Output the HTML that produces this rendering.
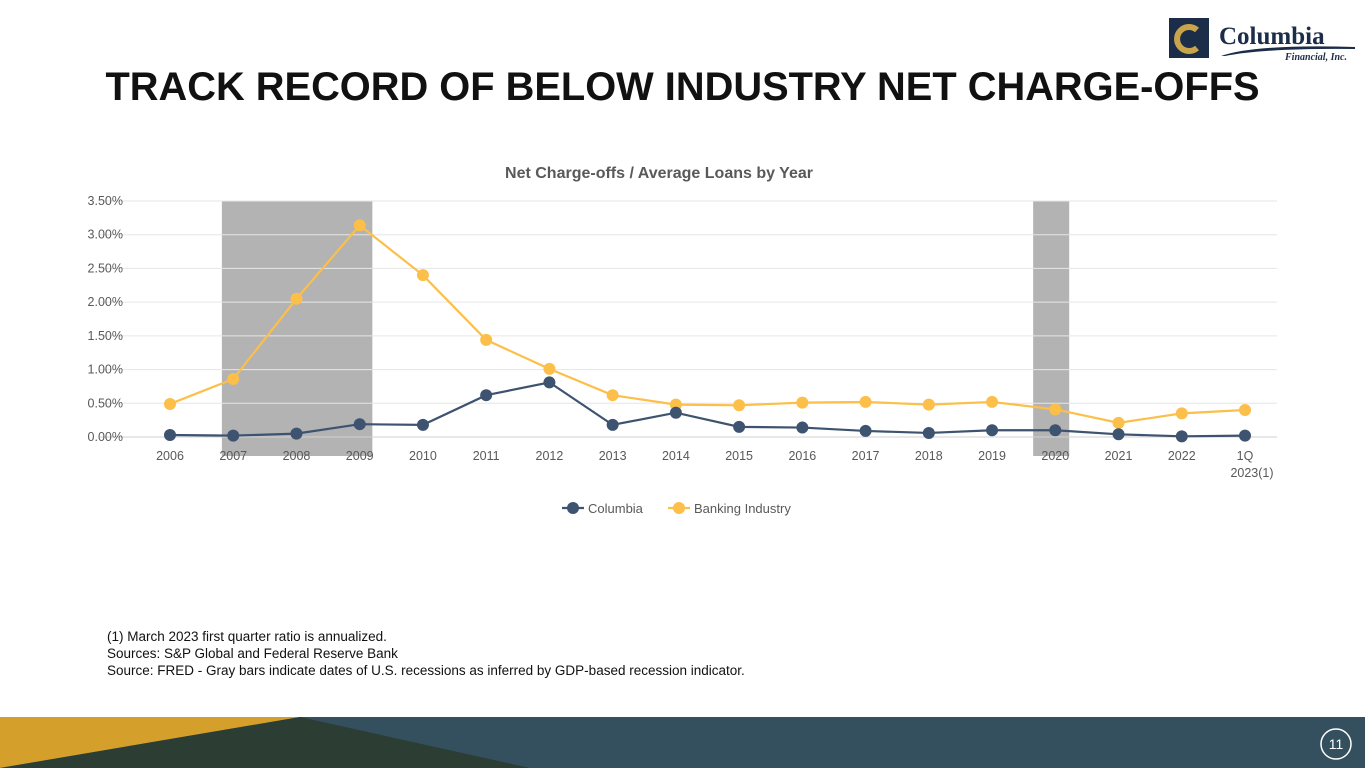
<!DOCTYPE html>
<html><head><meta charset="utf-8"><style>
body{margin:0;width:1365px;height:768px;position:relative;background:#fff;font-family:"Liberation Sans",sans-serif;overflow:hidden}
.title{position:absolute;left:0;width:1365px;top:65px;text-align:center;font-weight:bold;font-size:39.8px;color:#111}
.notes{position:absolute;left:107px;top:628px;font-size:13.5px;line-height:17px;color:#111}
</style></head><body>
<div class="title">TRACK RECORD OF BELOW INDUSTRY NET CHARGE-OFFS</div>
<svg style="position:absolute;left:1165px;top:14px" width="200" height="50">
<rect x="4" y="4" width="40" height="40" fill="#1c2d4a"/>
<path d="M32 16 A12 12 0 1 0 32 34" stroke="#c9a44a" stroke-width="6" fill="none"/>
<text x="54" y="30" font-family="Liberation Serif" font-weight="bold" font-size="25" fill="#1c2d4a">Columbia</text>
<path d="M56 42 Q90 30 190 33 L190 35 Q100 34 60 42Z" fill="#1c2d4a"/>
<text x="120" y="46" font-family="Liberation Serif" font-style="italic" font-weight="bold" font-size="10" fill="#1c2d4a">Financial, Inc.</text>
</svg>
<svg id="chart" style="position:absolute;left:0;top:0" width="1365" height="560"></svg>
<div class="notes">(1) March 2023 first quarter ratio is annualized.<br>Sources: S&amp;P Global and Federal Reserve Bank<br>Source: FRED - Gray bars indicate dates of U.S. recessions as inferred by GDP-based recession indicator.</div>
<svg style="position:absolute;left:0;top:717px" width="1365" height="51">
<rect width="1365" height="51" fill="#34505f"/>
<polygon points="0,0 300,0 0,51" fill="#d4a02b"/>
<polygon points="300,0 530,51 0,51" fill="#2c3d33"/>
<circle cx="1336" cy="27" r="15" fill="none" stroke="#fff" stroke-width="1.5"/>
<text x="1336" y="32" text-anchor="middle" fill="#fff" font-size="14">11</text>
</svg>
<script>
const categories=["2006","2007","2008","2009","2010","2011","2012","2013","2014","2015","2016","2017","2018","2019","2020","2021","2022","1Q 2023(1)"];
const columbia=[0.03,0.02,0.05,0.19,0.18,0.62,0.81,0.18,0.36,0.15,0.14,0.09,0.06,0.10,0.10,0.04,0.01,0.02];
const industry=[0.49,0.86,2.05,3.14,2.40,1.44,1.01,0.62,0.48,0.47,0.51,0.52,0.48,0.52,0.41,0.21,0.35,0.40];
const yTicks=[0,0.5,1,1.5,2,2.5,3,3.5];
const recessions=[[0.82,3.2],[13.65,14.22]];
const svg=document.getElementById('chart'),NS='http://www.w3.org/2000/svg';
const X=i=>170+i*(1245-170)/17, Y=v=>437-v*(236/3.5);
function mk(t,a,txt){const e=document.createElementNS(NS,t);for(const k in a)e.setAttribute(k,a[k]);if(txt!==undefined)e.textContent=txt;svg.appendChild(e);return e;}
recessions.forEach(r=>{const e=mk('rect',{x:X(r[0]),y:201,width:X(r[1])-X(r[0]),height:255,fill:'#b3b3b3'});

});
yTicks.forEach(t=>{const l=mk('line',{x1:100,x2:1277,y1:Y(t),y2:Y(t),stroke:t===0?'#d0d0d0':'#e6e6e6'});


const tx=mk('text',{x:123,y:Y(t)+4,'text-anchor':'end','font-size':12.5,fill:'#595959'},t.toFixed(2)+'%');

});
categories.forEach((c,i)=>{const parts=c.split(' ');parts.forEach((p,j)=>{const tx=mk('text',{x:parts.length>1&&j==1?X(i)+7:X(i),y:460+j*17,'text-anchor':'middle','font-size':12.5,fill:'#595959'},p);

});});
const t=mk('text',{x:659,y:178,'text-anchor':'middle','font-size':16,'font-weight':'bold',fill:'#595959'},'Net Charge-offs / Average Loans by Year');


function series(vals,color,name){const p=mk('polyline',{points:vals.map((v,i)=>X(i)+','+Y(v)).join(' '),fill:'none',stroke:color,'stroke-width':2.2});


vals.forEach((v,i)=>{const c=mk('circle',{cx:X(i),cy:Y(v),r:6,fill:color});

});}
series(industry,'#fbbf4a','industry');
series(columbia,'#3d5370','columbia');
[[562,'#3d5370','Columbia'],[668,'#fbbf4a','Banking Industry']].forEach(l=>{
const g=mk('line',{x1:l[0],x2:l[0]+22,y1:508,y2:508,stroke:l[1],'stroke-width':2.2});


const c=mk('circle',{cx:l[0]+11,cy:508,r:6,fill:l[1]});


const tx=mk('text',{x:l[0]+26,y:513,'font-size':13,fill:'#595959'},l[2]);

});
</script>
</body></html>
